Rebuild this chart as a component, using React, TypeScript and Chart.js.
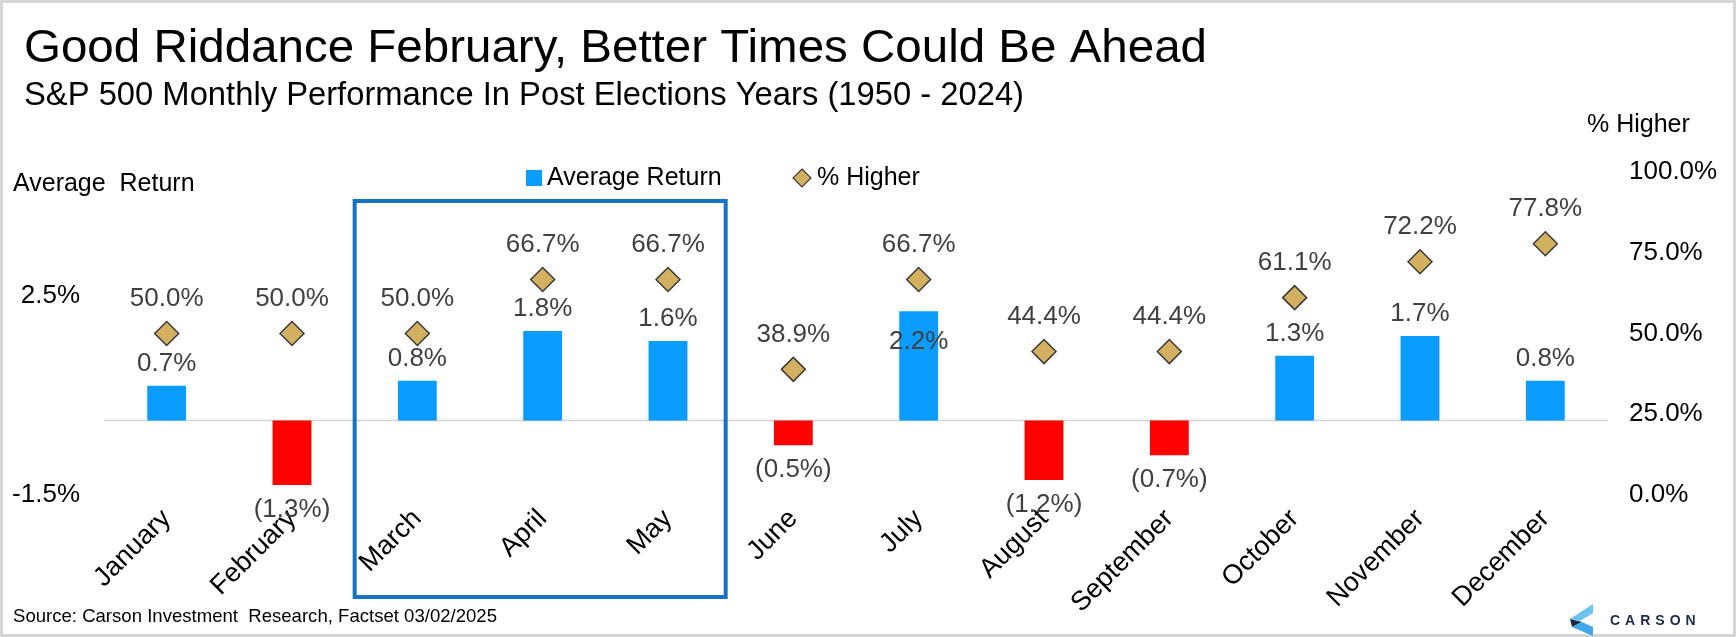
import React, { useEffect, useRef } from 'react';
import { Chart, registerables } from 'chart.js';

Chart.register(...registerables);

// ---------- data ----------
const months = ['January', 'February', 'March', 'April', 'May', 'June', 'July', 'August', 'September', 'October', 'November', 'December'];
const avgReturn = [0.7, -1.3, 0.8, 1.8, 1.6, -0.5, 2.2, -1.2, -0.7, 1.3, 1.7, 0.8];
const pctHigher = [50.0, 50.0, 50.0, 66.7, 66.7, 38.9, 66.7, 44.4, 44.4, 61.1, 72.2, 77.8];
const leftTicks = [-1.5, 2.5];
const rightTicks = [0, 25, 50, 75, 100];
const highlightedMonths = ['March', 'April', 'May'];
const insideLabelMonths = ['July'];

const titleText = 'Good Riddance February, Better Times Could Be Ahead';
const subtitleText = 'S&P 500 Monthly Performance In Post Elections Years (1950 - 2024)';
const sourceText = 'Source: Carson Investment  Research, Factset 03/02/2025';
const leftAxisTitle = 'Average  Return';
const rightAxisTitle = '% Higher';
const seriesNames = ['Average Return', '% Higher'];

// ---------- style ----------
const W = 1736;
const H = 637;
const FONT = '"Liberation Sans", Arial, Helvetica, sans-serif';
const BLUE = '#0A9CFF';
const RED = '#FF0000';
const GOLD = '#D3B060';
const DIAMOND_BORDER = '#3a3a3a';
const LABEL_GREY = '#404040';
const BOX_BLUE = '#1872C4';

function fitText(ctx: CanvasRenderingContext2D, text: string, x: number, y: number, font: string, width: number) {
  ctx.save();
  ctx.font = font;
  const m = ctx.measureText(text).width;
  ctx.translate(x, y);
  ctx.scale(width / m, 1);
  ctx.textAlign = 'left';
  ctx.fillText(text, 0, 0);
  ctx.restore();
}

const decorPlugin = {
  id: 'decor',
  beforeDraw(chart: any) {
    const ctx = chart.ctx as CanvasRenderingContext2D;
    ctx.save();
    ctx.fillStyle = '#ffffff';
    ctx.fillRect(0, 0, W, H);
    ctx.strokeStyle = '#d6d6d6';
    ctx.lineWidth = 3;
    ctx.strokeRect(1.5, 1.5, W - 3, H - 3);
    ctx.restore();
  },
  beforeDatasetsDraw(chart: any) {
    const ctx = chart.ctx as CanvasRenderingContext2D;
    const y = chart.scales.y.getPixelForValue(0);
    const area = chart.chartArea;
    ctx.save();
    ctx.strokeStyle = '#d3d3d3';
    ctx.lineWidth = 1.5;
    ctx.beginPath();
    ctx.moveTo(area.left, y);
    ctx.lineTo(area.right, y);
    ctx.stroke();
    ctx.restore();
  },
  afterDatasetsDraw(chart: any) {
    const ctx = chart.ctx as CanvasRenderingContext2D;
    ctx.save();
    ctx.font = `26px ${FONT}`;
    ctx.fillStyle = LABEL_GREY;
    ctx.textAlign = 'center';
    ctx.textBaseline = 'middle';
    // bar labels
    const barMeta = chart.getDatasetMeta(0);
    barMeta.data.forEach((bar: any, i: number) => {
      const v = avgReturn[i];
      const txt = v < 0 ? `(${Math.abs(v).toFixed(1)}%)` : `${v.toFixed(1)}%`;
      const p = bar.getProps(['x', 'y', 'base'], true);
      let ty;
      if (insideLabelMonths.includes(months[i])) ty = p.y + 31;
      else if (v >= 0) ty = p.y - 22;
      else ty = p.y + 25;
      ctx.fillText(txt, p.x, ty);
    });
    // diamond labels
    const ptMeta = chart.getDatasetMeta(1);
    ptMeta.data.forEach((pt: any, i: number) => {
      const p = pt.getProps(['x', 'y'], true);
      ctx.fillText(`${pctHigher[i].toFixed(1)}%`, p.x, p.y - 35);
    });
    ctx.restore();
  },
  afterDraw(chart: any) {
    const ctx = chart.ctx as CanvasRenderingContext2D;
    const xs = chart.scales.x;
    ctx.save();

    // title & subtitle
    ctx.fillStyle = '#000000';
    ctx.textBaseline = 'alphabetic';
    fitText(ctx, titleText, 24, 62, `47px ${FONT}`, 1183);
    fitText(ctx, subtitleText, 24, 105, `33px ${FONT}`, 1000);

    // axis titles
    ctx.font = `25px ${FONT}`;
    ctx.textBaseline = 'middle';
    ctx.textAlign = 'left';
    ctx.fillText(leftAxisTitle, 13, 184);
    ctx.fillText(rightAxisTitle, 1587, 125);

    // legend
    ctx.fillStyle = BLUE;
    ctx.fillRect(526, 170, 16, 16);
    ctx.fillStyle = '#000000';
    ctx.fillText(seriesNames[0], 547, 178);
    ctx.beginPath();
    ctx.moveTo(802, 169);
    ctx.lineTo(811, 178);
    ctx.lineTo(802, 187);
    ctx.lineTo(793, 178);
    ctx.closePath();
    ctx.fillStyle = GOLD;
    ctx.fill();
    ctx.strokeStyle = DIAMOND_BORDER;
    ctx.lineWidth = 1.2;
    ctx.stroke();
    ctx.fillStyle = '#000000';
    ctx.fillText(seriesNames[1], 817, 178);

    // highlight box around March-May
    const idx = highlightedMonths.map((m) => months.indexOf(m));
    const first = Math.min(...idx);
    const last = Math.max(...idx);
    const bx0 = (xs.getPixelForValue(first - 1) + xs.getPixelForValue(first)) / 2;
    const bx1 = (xs.getPixelForValue(last) + xs.getPixelForValue(last + 1)) / 2 - 5;
    ctx.strokeStyle = BOX_BLUE;
    ctx.lineWidth = 4;
    ctx.strokeRect(bx0, 201, bx1 - bx0, 396);

    // source
    ctx.fillStyle = '#000000';
    ctx.textBaseline = 'middle';
    fitText(ctx, sourceText, 13, 617, `19px ${FONT}`, 484);

    // logo
    ctx.fillStyle = '#6CC3F2';
    ctx.beginPath();
    ctx.moveTo(1593, 604);
    ctx.lineTo(1593, 613);
    ctx.lineTo(1580, 621);
    ctx.lineTo(1570, 619);
    ctx.closePath();
    ctx.fill();
    ctx.fillStyle = '#1B2A47';
    ctx.beginPath();
    ctx.moveTo(1570, 619);
    ctx.lineTo(1582, 622);
    ctx.lineTo(1572, 627);
    ctx.closePath();
    ctx.fill();
    ctx.fillStyle = '#3FA9EC';
    ctx.beginPath();
    ctx.moveTo(1572, 627);
    ctx.lineTo(1582, 622);
    ctx.lineTo(1593, 627);
    ctx.lineTo(1593, 636);
    ctx.closePath();
    ctx.fill();
    ctx.fillStyle = '#1B2A47';
    ctx.font = `bold 14px ${FONT}`;
    (ctx as any).letterSpacing = '5px';
    ctx.textAlign = 'left';
    ctx.fillText('CARSON', 1610, 621);
    ctx.restore();
  },
};

export default function App() {
  const canvasRef = useRef<HTMLCanvasElement | null>(null);

  useEffect(() => {
    document.body.style.margin = '0';
    const canvas = canvasRef.current;
    if (!canvas) return;
    const chart = new Chart(canvas, {
      type: 'bar',
      data: {
        labels: months,
        datasets: [
          {
            type: 'bar',
            label: seriesNames[0],
            data: avgReturn,
            backgroundColor: avgReturn.map((v) => (v >= 0 ? BLUE : RED)),
            borderWidth: 0,
            barPercentage: 0.31,
            categoryPercentage: 1.0,
            yAxisID: 'y',
            order: 1,
          },
          {
            type: 'line',
            label: seriesNames[1],
            data: pctHigher,
            showLine: false,
            pointStyle: 'rectRot',
            pointRadius: 12,
            pointHoverRadius: 12,
            pointBackgroundColor: GOLD,
            pointBorderColor: DIAMOND_BORDER,
            pointBorderWidth: 1.5,
            yAxisID: 'y1',
            order: 0,
          },
        ],
      },
      options: {
        responsive: false,
        animation: false,
        devicePixelRatio: 1,
        layout: { padding: { top: 172, left: 0, right: 0, bottom: 0 } },
        plugins: {
          legend: { display: false },
          tooltip: { enabled: false },
          title: { display: false },
        },
        scales: {
          x: {
            grid: { display: false, drawTicks: false },
            border: { display: false },
            ticks: {
              autoSkip: false,
              minRotation: 45,
              maxRotation: 45,
              padding: 8,
              color: '#000000',
              font: { family: FONT, size: 27 },
            },
            afterFit: (s: any) => {
              s.height = H - 495;
            },
          },
          y: {
            position: 'left',
            min: -1.5,
            max: 5.0,
            afterBuildTicks: (s: any) => {
              s.ticks = leftTicks.map((v) => ({ value: v }));
            },
            grid: { display: false, drawTicks: false },
            border: { display: false },
            ticks: {
              padding: 24,
              color: '#000000',
              font: { family: FONT, size: 26 },
              callback: (v: any) => `${Number(v).toFixed(1)}%`,
            },
            afterFit: (s: any) => {
              s.width = 104;
            },
          },
          y1: {
            position: 'right',
            min: 0,
            max: 100,
            afterBuildTicks: (s: any) => {
              s.ticks = rightTicks.map((v) => ({ value: v }));
            },
            grid: { display: false, drawTicks: false },
            border: { display: false },
            ticks: {
              padding: 21,
              color: '#000000',
              font: { family: FONT, size: 26 },
              callback: (v: any) => `${Number(v).toFixed(1)}%`,
            },
            afterFit: (s: any) => {
              s.width = W - 1608;
            },
          },
        },
      },
      plugins: [decorPlugin],
    });
    return () => chart.destroy();
  }, []);

  return (
    <div style={{ width: W, height: H, position: 'relative' }}>
      <canvas ref={canvasRef} width={W} height={H} style={{ display: 'block', width: W, height: H }} />
    </div>
  );
}
